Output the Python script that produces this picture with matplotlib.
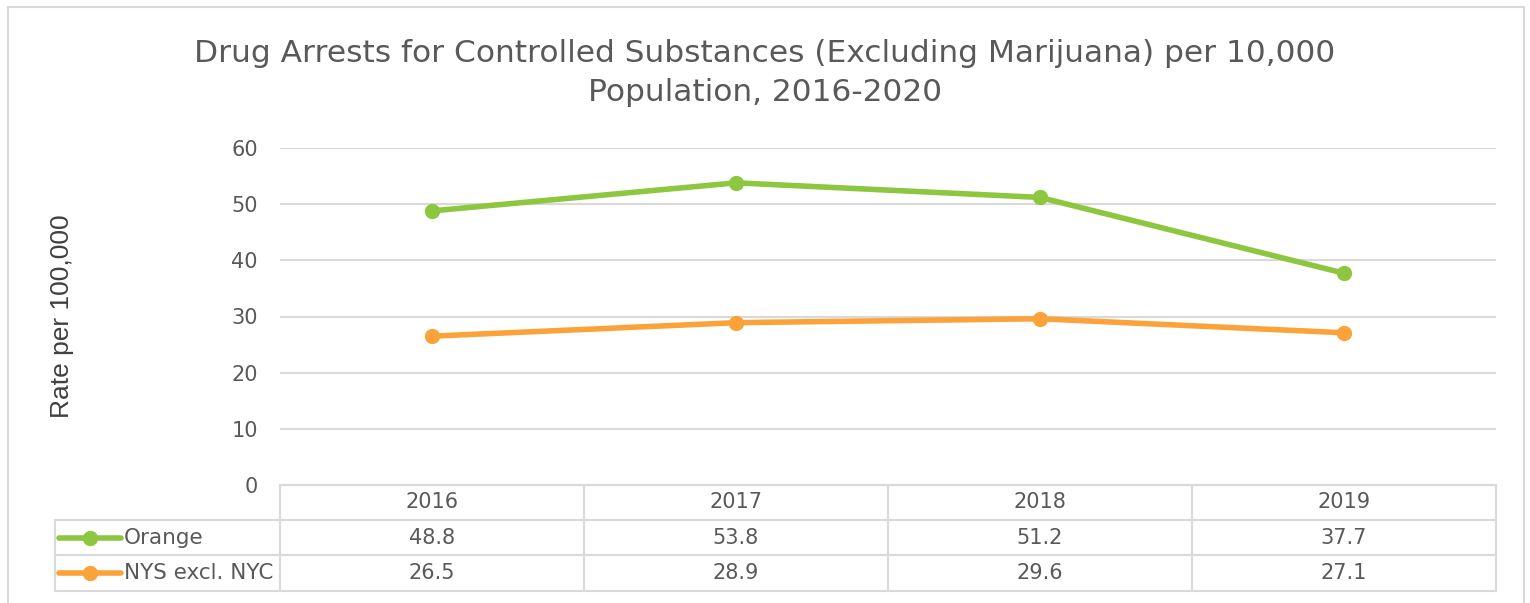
import matplotlib
matplotlib.use("Agg")
import matplotlib.pyplot as plt
from matplotlib.patches import Rectangle
from matplotlib.lines import Line2D

# data
years = ["2016", "2017", "2018", "2019"]
orange = [48.8, 53.8, 51.2, 37.7]
nys = [26.5, 28.9, 29.6, 27.1]
series_names = ["Orange", "NYS excl. NYC"]
y_ticks = [0, 10, 20, 30, 40, 50, 60]

GREEN = "#8DC63F"
ORANGE = "#FBA33A"
GRID = "#D9D9D9"
TEXT = "#595959"

W, H = 1530, 603
fig = plt.figure(figsize=(W / 100, H / 100), dpi=100)
fig.patch.set_facecolor("white")

# outer chart border
fig.add_artist(Rectangle((8 / W, -0.05), (1524 - 8) / W, 1.05 - 7 / H,
                         transform=fig.transFigure, fill=False,
                         edgecolor=GRID, linewidth=1.5))

left, right, top, bottom = 280, 1496, 148, 485
ax = fig.add_axes([left / W, 1 - bottom / H, (right - left) / W, (bottom - top) / H])

x = list(range(len(years)))
ax.plot(x, orange, color=GREEN, linewidth=4, marker="o", markersize=10, solid_capstyle="round", zorder=3)
ax.plot(x, nys, color=ORANGE, linewidth=4, marker="o", markersize=10, solid_capstyle="round", zorder=3)

ax.set_xlim(-0.5, len(years) - 0.5)
ax.set_ylim(0, 60)
ax.set_yticks(y_ticks)
ax.tick_params(axis="y", length=0, pad=16, labelsize=15, labelcolor=TEXT)
ax.set_xticks([])
ax.yaxis.grid(True, color=GRID, linewidth=1.5)
ax.set_axisbelow(True)
for s in ax.spines.values():
    s.set_visible(False)

fig.text(62 / W, 1 - 316 / H, "Rate per 100,000", rotation=90, ha="center", va="center",
         fontsize=19, color="#404040", family="Liberation Sans")

fig.text(0.5, 1 - 73 / H, "Drug Arrests for Controlled Substances (Excluding Marijuana) per 10,000\nPopulation, 2016-2020",
         ha="center", va="center", fontsize=22.5, color=TEXT, linespacing=1.45)

# data table below the plot
ph = bottom - top
row_edges = [0, -35 / ph, -70 / ph, -106 / ph]
lab_left = (55 - left) / (right - left)
tr = ax.transAxes
kw = dict(transform=tr, color=GRID, linewidth=1.5, clip_on=False)

# horizontal lines
ax.add_line(Line2D([0, 1], [row_edges[0]] * 2, **kw))
for yv in row_edges[1:]:
    ax.add_line(Line2D([lab_left, 1], [yv] * 2, **kw))
# vertical lines
n = len(years)
for i in range(n + 1):
    ax.add_line(Line2D([i / n] * 2, [row_edges[0], row_edges[-1]], **kw))
ax.add_line(Line2D([lab_left] * 2, [row_edges[1], row_edges[-1]], **kw))

for i, yr in enumerate(years):
    cx = (i + 0.5) / n
    ax.text(cx, (row_edges[0] + row_edges[1]) / 2, yr, transform=tr, ha="center", va="center",
            fontsize=15, color=TEXT)
    ax.text(cx, (row_edges[1] + row_edges[2]) / 2, f"{orange[i]:.1f}", transform=tr, ha="center",
            va="center", fontsize=15, color=TEXT)
    ax.text(cx, (row_edges[2] + row_edges[3]) / 2, f"{nys[i]:.1f}", transform=tr, ha="center",
            va="center", fontsize=15, color=TEXT)

# legend keys in the row labels
for r, (name, col) in enumerate(zip(series_names, [GREEN, ORANGE])):
    yc = (row_edges[r + 1] + row_edges[r + 2]) / 2
    x0 = (59 - left) / (right - left)
    x1 = (121 - left) / (right - left)
    ax.add_line(Line2D([x0, x1], [yc, yc], transform=tr, color=col, linewidth=4,
                       solid_capstyle="round", clip_on=False))
    ax.add_line(Line2D([(x0 + x1) / 2], [yc], transform=tr, color=col, marker="o",
                       markersize=10, clip_on=False))
    ax.text((124 - left) / (right - left), yc, name, transform=tr, ha="left", va="center",
            fontsize=15.5, color=TEXT)

fig.savefig("out.png", dpi=100, facecolor="white")
